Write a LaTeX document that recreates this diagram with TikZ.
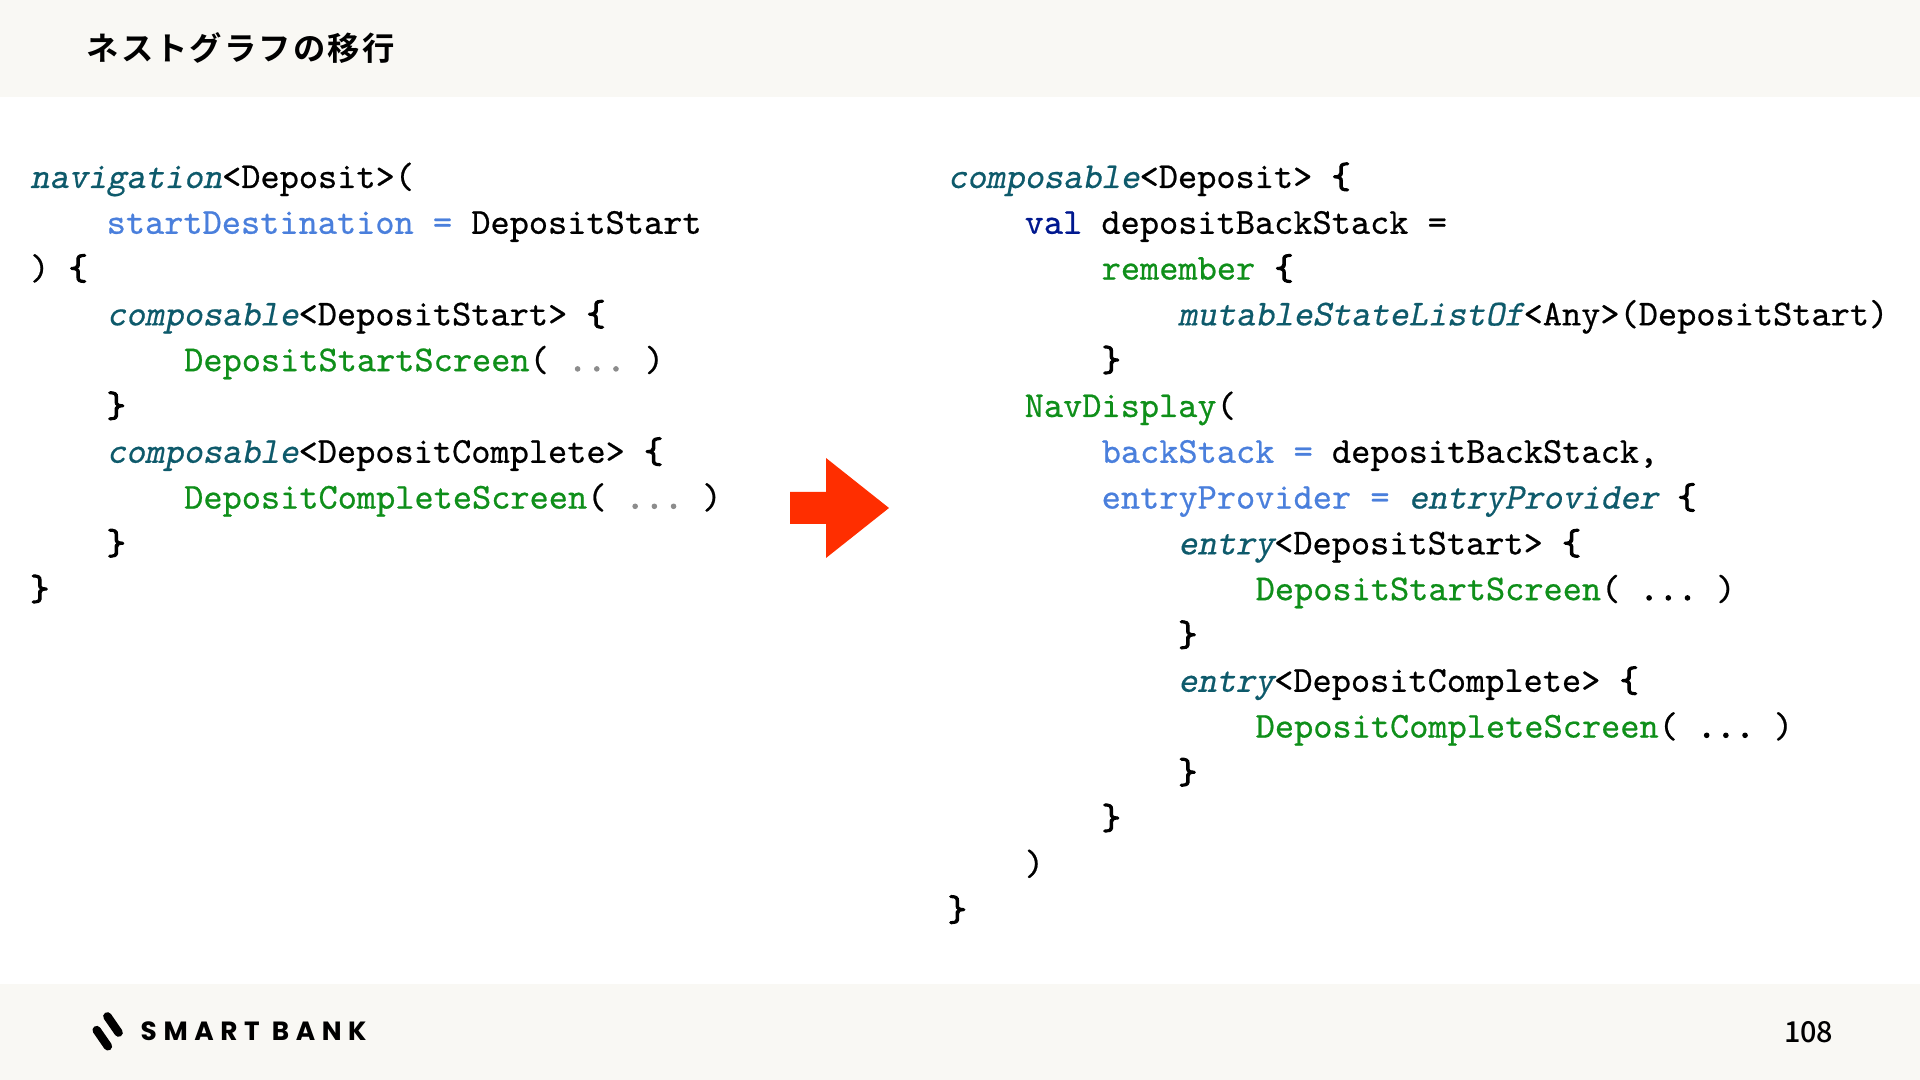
\documentclass[tikz,border=0pt]{standalone}
\usepackage{fontspec}
\setmonofont[FakeBold=0.6]{Latin Modern Mono}
\newfontfamily\slantfont[FakeBold=0.6,FakeSlant=0.2]{Latin Modern Mono}
\newfontfamily\heavyfont[FakeBold=2.6]{Latin Modern Mono}
\newfontfamily\cjk[LetterSpace=6.5]{Noto Sans CJK JP Bold}
\newfontfamily\pagefont{Noto Sans CJK JP Medium}
\newfontfamily\logofont[LetterSpace=25]{Poppins Bold}

\definecolor{panelbg}{HTML}{F9F8F4}
\definecolor{fncol}{HTML}{0E5A6B}
\definecolor{paramcol}{HTML}{4A7FDC}
\definecolor{callcol}{HTML}{0F8F1A}
\definecolor{valcol}{HTML}{00188F}
\definecolor{dotcol}{HTML}{8C8C8C}
\definecolor{arrowcol}{HTML}{FF2E00}

\newcommand{\fn}[1]{\textcolor{fncol}{\slantfont #1}}
\newcommand{\pa}[1]{\textcolor{paramcol}{#1}}
\newcommand{\cl}[1]{\textcolor{callcol}{#1}}
\newcommand{\kw}[1]{\textcolor{valcol}{#1}}
\newcommand{\dm}{\textcolor{dotcol}{\heavyfont ...}}
\newcommand{\dk}{{\heavyfont ...}}
\newcommand{\lb}{{\heavyfont\{}}
\newcommand{\rb}{{\heavyfont\}}}

\tikzset{
    codeline/.style={anchor=base west, inner sep=0pt, font=\ttfamily\fontsize{10.4}{12}\selectfont},
}

\begin{document}
\begin{tikzpicture}

        \useasboundingbox (0,0) rectangle (19.2,10.8);

        \fill [panelbg] (0,9.83) rectangle (19.2,10.8);
        \fill [panelbg] (0,0) rectangle (19.2,0.96);

        \node [anchor=base west, inner sep=0pt, font=\fontsize{9.2}{11}\selectfont] (title) at (0.86,10.19) {\cjk ネストグラフの移行};
        \node [anchor=base east, inner sep=0pt, font=\fontsize{8.2}{10}\selectfont] (pageno) at (18.34,0.37) {\pagefont 108};

        % logo
        \draw [black, line width=0.085cm, line cap=round] (1.074,0.636) -- (1.186,0.474);
        \draw [black, line width=0.085cm, line cap=round] (0.967,0.499) -- (1.079,0.337);
        \node [anchor=base west, inner sep=0pt, font=\fontsize{7.5}{9}\selectfont] (logotext) at (1.40,0.39) {\logofont SMART BANK};

        % arrow
        \fill [arrowcol] (7.9,5.56) -- (8.26,5.56) -- (8.26,5.22) -- (8.89,5.72) -- (8.26,6.22) -- (8.26,5.88) -- (7.9,5.88) -- cycle;

        % left column
        \node [codeline] (a1) at (0.295,8.92) {\fn{navigation}<Deposit>(};
        \node [codeline] (a2) at (1.06,8.462) {\pa{startDestination =} DepositStart};
        \node [codeline] (a3) at (0.295,8.004) {) \lb};
        \node [codeline] (a4) at (1.06,7.546) {\fn{composable}<DepositStart> \lb};
        \node [codeline] (a5) at (1.835,7.088) {\cl{DepositStartScreen}( \dm{} )};
        \node [codeline] (a6) at (1.06,6.63) {\rb};
        \node [codeline] (a7) at (1.06,6.172) {\fn{composable}<DepositComplete> \lb};
        \node [codeline] (a8) at (1.835,5.714) {\cl{DepositCompleteScreen}( \dm{} )};
        \node [codeline] (a9) at (1.06,5.256) {\rb};
        \node [codeline] (a10) at (0.295,4.798) {\rb};

        % right column
        \node [codeline] (b1) at (9.47,8.92) {\fn{composable}<Deposit> \lb};
        \node [codeline] (b2) at (10.24,8.462) {\kw{val} depositBackStack =};
        \node [codeline] (b3) at (11.01,8.004) {\cl{remember} \lb};
        \node [codeline] (b4) at (11.775,7.546) {\fn{mutableStateListOf}<Any>(DepositStart)};
        \node [codeline] (b5) at (11.01,7.088) {\rb};
        \node [codeline] (b6) at (10.24,6.63) {\cl{NavDisplay}(};
        \node [codeline] (b7) at (11.01,6.172) {\pa{backStack =} depositBackStack,};
        \node [codeline] (b8) at (11.01,5.714) {\pa{entryProvider =} \fn{entryProvider} \lb};
        \node [codeline] (b9) at (11.775,5.256) {\fn{entry}<DepositStart> \lb};
        \node [codeline] (b10) at (12.55,4.798) {\cl{DepositStartScreen}( \dk{} )};
        \node [codeline] (b11) at (11.775,4.34) {\rb};
        \node [codeline] (b12) at (11.775,3.882) {\fn{entry}<DepositComplete> \lb};
        \node [codeline] (b13) at (12.55,3.424) {\cl{DepositCompleteScreen}( \dk{} )};
        \node [codeline] (b14) at (11.775,2.966) {\rb};
        \node [codeline] (b15) at (11.01,2.508) {\rb};
        \node [codeline] (b16) at (10.24,2.05) {)};
        \node [codeline] (b17) at (9.47,1.592) {\rb};

\end{tikzpicture}
\end{document}
